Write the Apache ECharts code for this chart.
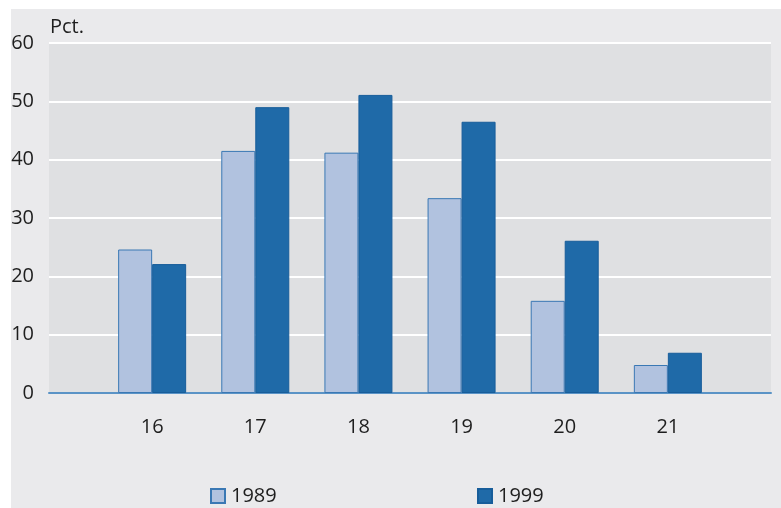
<!DOCTYPE html>
<html>
<head>
<meta charset="utf-8">
<script src="https://cdn.jsdelivr.net/npm/echarts@6/dist/echarts.min.js"></script>
<style>
  html, body { margin: 0; padding: 0; background: #fff; }
  #chart { width: 781px; height: 508px; }
</style>
</head>
<body>
<div id="chart"></div>
<script>
// ages on the x axis (blank slots at both ends)
var ages = ['', '16', '17', '18', '19', '20', '21', ''];
var yTicks = [0, 10, 20, 30, 40, 50, 60];
var v1989 = ['-', 24.6, 41.5, 41.2, 33.4, 15.8, 4.8, '-'];
var v1999 = ['-', 22.1, 49.0, 51.1, 46.5, 26.1, 6.9, '-'];

var fontFam = '"Open Sans", "Noto Sans", sans-serif';

var myChart = echarts.init(document.getElementById('chart'));
var option = {
    backgroundColor: '#fff',
    animation: false,
    graphic: [
        {
            type: 'rect', z: -10, silent: true,
            shape: { x: 11, y: 9, width: 770, height: 499 },
            style: { fill: '#eaeaec' }
        },
        {
            type: 'text', left: 50, top: 17,
            style: { text: 'Pct.', fill: '#1e1e1e', font: '20px ' + fontFam }
        }
    ],
    grid: {
        left: 49, right: 10, top: 43, bottom: 115,
        show: true, backgroundColor: '#dfe0e2', borderWidth: 0
    },
    legend: [
        {
            left: 205, top: 481, itemWidth: 14, itemHeight: 14, itemGap: 0,
            icon: 'rect',
            data: ['1989'],
            textStyle: { color: '#1e1e1e', fontSize: 20, fontFamily: fontFam, padding: [0, 0, 0, 1] }
        },
        {
            left: 472, top: 481, itemWidth: 14, itemHeight: 14, itemGap: 0,
            icon: 'rect',
            data: ['1999'],
            textStyle: { color: '#1e1e1e', fontSize: 20, fontFamily: fontFam, padding: [0, 0, 0, 1] }
        }
    ],
    xAxis: {
        type: 'category',
        data: ages,
        boundaryGap: false,
        axisTick: { show: false },
        axisLine: { lineStyle: { color: '#5a93c6', width: 2 } },
        axisLabel: { color: '#1e1e1e', fontSize: 20, fontFamily: fontFam, margin: 24 },
        splitLine: { show: false }
    },
    yAxis: {
        type: 'value',
        min: yTicks[0], max: yTicks[yTicks.length - 1], interval: 10,
        axisLine: { show: false },
        axisTick: { show: false },
        axisLabel: { color: '#1e1e1e', fontSize: 20, fontFamily: fontFam, margin: 15 },
        splitLine: { lineStyle: { color: '#fff', width: 2 } }
    },
    series: [
        {
            name: '1989', type: 'bar', data: v1989,
            barWidth: 34, barGap: '0%',
            itemStyle: { color: '#b1c2df', borderColor: '#3a78b4', borderWidth: 1 }
        },
        {
            name: '1999', type: 'bar', data: v1999,
            barWidth: 34, barGap: '0%',
            itemStyle: { color: '#1f6aa8', borderColor: '#175d9a', borderWidth: 1 }
        }
    ]
};
myChart.setOption(option);
</script>
</body>
</html>
